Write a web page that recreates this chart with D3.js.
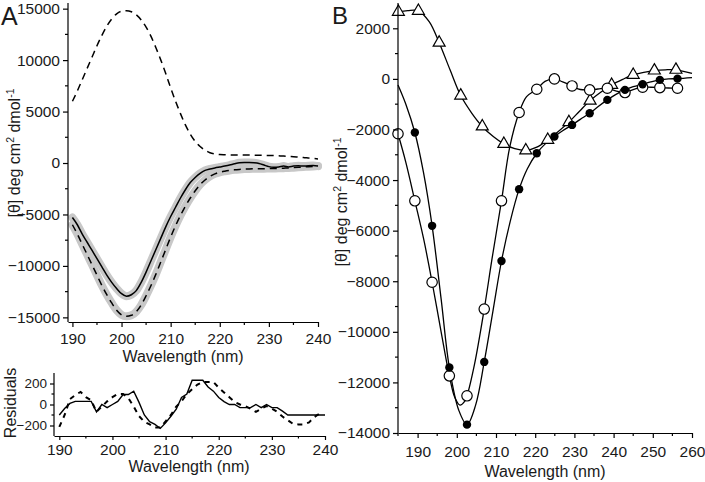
<!DOCTYPE html>
<html><head><meta charset="utf-8">
<script src="https://cdn.jsdelivr.net/npm/d3@7"></script>
<style>
body{margin:0;background:#fff;}
svg{display:block;font-family:"Liberation Sans",Arial,sans-serif;}
.axis path,.axis line{stroke:#000;stroke-width:1.2;}
.axis text{font-size:15.5px;fill:#1a1a1a;font-family:"Liberation Sans",Arial,sans-serif;}
.axis.small text{font-size:13.5px;}
.lbl{font-size:16px;fill:#1a1a1a;}
</style></head>
<body><svg id="c" width="705" height="482"></svg>
<script>
// ---------- Panel A: main spectra ----------
const wlA = [190,191,192,193,194,195,196,197,198,199,200,201,202,203,204,205,206,207,208,209,210,211,212,213,214,215,216,217,218,219,220,221,222,223,224,225,226,227,228,229,230,231,232,233,234,235,236,237,238,239,240];
const posDashed = [6000,7000,8100,9200,10300,11400,12400,13300,14000,14500,14750,14800,14700,14400,13900,13200,12300,11200,10000,8700,7300,6000,4800,3700,2800,2100,1600,1250,1000,880,820,800,790,780,780,770,770,760,750,740,730,720,700,680,650,620,580,540,490,440,400];
const negSolid = [-5300,-6000,-6900,-7700,-8500,-9300,-10100,-10900,-11600,-12200,-12700,-12950,-12800,-12400,-11600,-10600,-9500,-8400,-7300,-6200,-5200,-4300,-3400,-2600,-1900,-1400,-1000,-720,-580,-480,-390,-300,-200,-80,20,50,50,20,-50,-200,-350,-400,-380,-300,-380,-300,-260,-300,-260,-250,-300];
const negDashed = [-6000,-6900,-7900,-8900,-9900,-10900,-11900,-12800,-13600,-14300,-14750,-14900,-14800,-14450,-13800,-12900,-11900,-10800,-9600,-8400,-7200,-6100,-5100,-4200,-3400,-2700,-2100,-1650,-1300,-1050,-900,-800,-720,-660,-620,-590,-570,-560,-550,-550,-540,-530,-520,-500,-480,-450,-420,-390,-360,-330,-300];
const ticksAy = [15000,10000,5000,0,-5000,-10000,-15000];
const ticksAx = [190,200,210,220,230,240];

// ---------- Panel A: residuals ----------
const wlR = [190,191,192,193,194,195,196,197,198,199,200,201,202,203,204,205,206,207,208,209,210,211,212,213,214,215,216,217,218,219,220,221,222,223,224,225,226,227,228,229,230,231,232,233,234,235,236,237,238,239,240];
const resSolid = [-100,-38,10,30,30,30,30,-70,0,-30,0,30,95,95,127,20,-100,-163,-190,-228,-175,-112,-45,67,100,231,231,231,167,127,67,27,0,0,-30,-30,-30,0,-30,0,-30,-30,-63,-100,-100,-100,-100,-100,-100,-100,-100];
const wlRd = [190,191,192,193,194,195,196,197,198,199,200,201,202,203,204,205,206,207,208,209,210,211,212,213,214,215,216,217,218,219,220,221,222,223,224,225,226,227,228,229,230,231,232,233,234,235,236,237,238,239];
const resDashed = [-213,-100,52,90,120,70,40,-70,-20,30,70,100,100,60,-20,-110,-165,-190,-220,-220,-160,-100,-20,30,100,145,190,215,215,215,160,115,70,25,0,-15,-40,-70,-40,-15,-40,-70,-115,-150,-185,-190,-190,-170,-120,-85];
const ticksRy = [200,0,-200];

// ---------- Panel B ----------
const wlCirc = [185,189.3,193.7,198.1,202.6,207,211.4,215.9,220.4,224.9,229.4,233.9,238.4,242.9,247.4,251.8,256.3];
const openCirc = [-2170,-4820,-8040,-11740,-12530,-9100,-4820,-1330,-410,0,-280,-435,-370,-540,-330,-345,-370];
const wlFill = [189.3,193.7,198.1,202.6,207,211.4,215.9,220.4,224.9,229.4,233.9,238.4,242.9,247.4,251.8,256.3];
const filledCirc = [-2120,-5810,-11410,-13670,-11190,-7200,-4360,-2940,-2280,-1820,-1360,-830,-435,-210,-40,10];
const wlTri = [185.1,190.2,195.5,201.0,206.5,212.0,217.6,223.2,228.6,234.0,239.5,245.0,250.4,255.9];
const triVals = [2650,2690,1430,-660,-1880,-2570,-2830,-2410,-1710,-860,-240,160,330,360];
// fitted curves
const fitCircX = [185,187,189.3,191.5,193.7,196,198.1,199.5,200.8,202,202.6,204.5,207,209,211.4,213.5,215.9,217.8,220.4,222.5,224.9,227,229.4,231.5,233.9,236,238.4,240.5,242.9,245,247.4,249.5,251.8,254,256.3];
const fitCircY = [-2170,-3300,-4820,-6300,-8040,-10000,-11740,-12600,-12900,-12750,-12530,-11300,-9100,-7100,-4820,-2700,-1330,-700,-410,-100,0,-120,-280,-420,-435,-400,-370,-470,-540,-420,-330,-330,-345,-360,-370];
const fitFillX = [185,187,189.3,191.5,193.7,196,198.1,200.5,202.6,204.8,207,209.2,211.4,213.6,215.9,218,220.4,222.5,224.9,227,229.4,231.5,233.9,236,238.4,240.5,242.9,245,247.4,249.5,251.8,254,256.3,260];
const fitFillY = [-240,-1000,-2120,-3700,-5810,-8700,-11410,-13100,-13670,-12900,-11190,-9200,-7200,-5650,-4360,-3550,-2940,-2580,-2280,-2050,-1820,-1600,-1360,-1100,-830,-620,-435,-310,-210,-120,-40,0,10,50];
const fitTriX = [185,187.5,190.2,193,195.5,198.3,201.0,203.8,206.5,209.3,212.0,214.8,217.6,220.4,223.2,225.9,228.6,231.3,234.0,236.8,239.5,242.3,245.0,247.7,250.4,253.2,255.9,260];
const fitTriY = [2650,2700,2690,2250,1430,350,-660,-1350,-1880,-2280,-2570,-2760,-2830,-2700,-2410,-2080,-1710,-1280,-860,-520,-240,-20,160,260,330,360,360,220];
const ticksBy = [2000,0,-2000,-4000,-6000,-8000,-10000,-12000,-14000];
const ticksBx = [190,200,210,220,230,240,250,260];

const svg = d3.select("#c");
const fmt = d3.format("d");

function minorTicks(g, scale, vals, orient, len){
  vals.forEach(v=>{
    const p = scale(v);
    if(orient==="left") g.append("line").attr("x1",0).attr("x2",-len).attr("y1",p).attr("y2",p).attr("stroke","#000").attr("stroke-width",1.2);
    else g.append("line").attr("y1",0).attr("y2",len).attr("x1",p).attr("x2",p).attr("stroke","#000").attr("stroke-width",1.2);
  });
}
function yLabel(g, x, y){
  const t = g.append("text").attr("class","lbl").attr("text-anchor","middle").attr("transform",`translate(${x},${y}) rotate(-90)`);
  t.append("tspan").text("[θ] deg cm");
  t.append("tspan").attr("font-size","10.5px").attr("dy","-6").text("2");
  t.append("tspan").attr("dy","6").text(" dmol");
  t.append("tspan").attr("font-size","10.5px").attr("dy","-6").text("-1");
}

// ===== Panel A main =====
const xA = d3.scaleLinear().domain([189.1,240]).range([68,318]);
const yA = d3.scaleLinear().domain([-15450,15550]).range([322,3]);
const gA = svg.append("g");
const lineA = (vals)=> d3.line().x((d,i)=>xA(wlA[i])).y(d=>yA(d)).curve(d3.curveMonotoneX)(vals);
gA.append("path").attr("d",lineA(negDashed)).attr("fill","none").attr("stroke","#c8c8c8").attr("stroke-width",8).attr("stroke-linecap","round");
gA.append("path").attr("d",lineA(negSolid)).attr("fill","none").attr("stroke","#c8c8c8").attr("stroke-width",8).attr("stroke-linecap","round");
gA.append("path").attr("d",lineA(negSolid)).attr("fill","none").attr("stroke","#000").attr("stroke-width",1.5);
gA.append("path").attr("d",lineA(negDashed)).attr("fill","none").attr("stroke","#000").attr("stroke-width",1.5).attr("stroke-dasharray","7,5");
gA.append("path").attr("d",lineA(posDashed)).attr("fill","none").attr("stroke","#000").attr("stroke-width",1.5).attr("stroke-dasharray","7,5");

const axAy = gA.append("g").attr("class","axis").attr("transform","translate(68,0)")
  .call(d3.axisLeft(yA).tickValues(ticksAy).tickFormat(fmt).tickSize(5).tickPadding(3).tickSizeOuter(0));
minorTicks(axAy, yA, [12500,7500,2500,-2500,-7500,-12500], "left", 3);
axAy.select(".domain").attr("d","M0,3V322");
const axAx = gA.append("g").attr("class","axis").attr("transform","translate(0,322)")
  .call(d3.axisBottom(xA).tickValues(ticksAx).tickFormat(fmt).tickSize(5).tickPadding(6).tickSizeOuter(0));
minorTicks(axAx, xA, [195,205,215,225,235], "bottom", 3);
gA.append("text").attr("class","lbl").attr("x",183).attr("y",362).attr("text-anchor","middle").text("Wavelength (nm)");
yLabel(gA, 20, 153);
svg.append("text").attr("x",1).attr("y",25).attr("font-size","25px").attr("fill","#1a1a1a").text("A");

// ===== Residuals =====
const xR = d3.scaleLinear().domain([189,240]).range([54,325]);
const yR = d3.scaleLinear().domain([-300,300]).range([436,373]);
const gR = svg.append("g");
gR.append("path").attr("d",d3.line().x((d,i)=>xR(wlR[i])).y(d=>yR(d))(resSolid)).attr("fill","none").attr("stroke","#000").attr("stroke-width",1.4);
gR.append("path").attr("d",d3.line().x((d,i)=>xR(wlRd[i])).y(d=>yR(d))(resDashed)).attr("fill","none").attr("stroke","#000").attr("stroke-width",2).attr("stroke-dasharray","5,5");
const axRy = gR.append("g").attr("class","axis small").attr("transform","translate(54,0)")
  .call(d3.axisLeft(yR).tickValues(ticksRy).tickFormat(fmt).tickSize(4).tickPadding(3).tickSizeOuter(0));
minorTicks(axRy, yR, [100,-100], "left", 2.5);
axRy.select(".domain").attr("d","M0,373V436");
const axRx = gR.append("g").attr("class","axis").attr("transform","translate(0,436)")
  .call(d3.axisBottom(xR).tickValues(ticksAx).tickFormat(fmt).tickSize(4).tickPadding(4).tickSizeOuter(0));
minorTicks(axRx, xR, [195,205,215,225,235], "bottom", 2.5);
gR.append("text").attr("class","lbl").attr("x",189).attr("y",472).attr("text-anchor","middle").text("Wavelength (nm)");
gR.append("text").attr("class","lbl").attr("font-size","13.5px").attr("text-anchor","middle").attr("transform","translate(16,403) rotate(-90)").text("Residuals");

// ===== Panel B =====
const xB = d3.scaleLinear().domain([185,260]).range([398,692]);
const yB = d3.scaleLinear().domain([-14000,3000]).range([433,3]);
const gB = svg.append("g");
const curveB = d3.curveCatmullRom.alpha(0.5);
gB.append("path").attr("d",d3.line().x((d,i)=>xB(fitTriX[i])).y(d=>yB(d)).curve(curveB)(fitTriY)).attr("fill","none").attr("stroke","#000").attr("stroke-width",1.3);
gB.append("path").attr("d",d3.line().x((d,i)=>xB(fitCircX[i])).y(d=>yB(d)).curve(curveB)(fitCircY)).attr("fill","none").attr("stroke","#000").attr("stroke-width",1.3);
gB.append("path").attr("d",d3.line().x((d,i)=>xB(fitFillX[i])).y(d=>yB(d)).curve(curveB)(fitFillY)).attr("fill","none").attr("stroke","#000").attr("stroke-width",1.3);

const tri = d3.symbol().type(d3.symbolTriangle).size(62);
gB.selectAll(".tri").data(triVals).join("path").attr("d",tri)
  .attr("transform",(d,i)=>`translate(${xB(wlTri[i])},${yB(d)})`)
  .attr("fill","#fff").attr("stroke","#000").attr("stroke-width",1.2);
gB.selectAll(".oc").data(openCirc).join("circle")
  .attr("cx",(d,i)=>xB(wlCirc[i])).attr("cy",d=>yB(d)).attr("r",5.2)
  .attr("fill","#fff").attr("stroke","#000").attr("stroke-width",1.2);
gB.selectAll(".fc").data(filledCirc).join("circle")
  .attr("cx",(d,i)=>xB(wlFill[i])).attr("cy",d=>yB(d)).attr("r",4.2)
  .attr("fill","#000");

const axBy = gB.append("g").attr("class","axis").attr("transform","translate(398,0)")
  .call(d3.axisLeft(yB).tickValues(ticksBy).tickFormat(fmt).tickSize(5).tickPadding(3).tickSizeOuter(0));
minorTicks(axBy, yB, [1000,-1000,-3000,-5000,-7000,-9000,-11000,-13000], "left", 3);
axBy.select(".domain").attr("d","M0,3V433");
const axBx = gB.append("g").attr("class","axis").attr("transform","translate(0,433)")
  .call(d3.axisBottom(xB).tickValues(ticksBx).tickFormat(fmt).tickSize(5).tickPadding(8).tickSizeOuter(0));
minorTicks(axBx, xB, [185,195,205,215,225,235,245,255], "bottom", 3);
gB.append("text").attr("class","lbl").attr("x",(398+692)/2).attr("y",477).attr("text-anchor","middle").text("Wavelength (nm)");
yLabel(gB, 347, 202);
svg.append("text").attr("x",332).attr("y",24).attr("font-size","24px").attr("fill","#1a1a1a").text("B");
</script></body></html>
